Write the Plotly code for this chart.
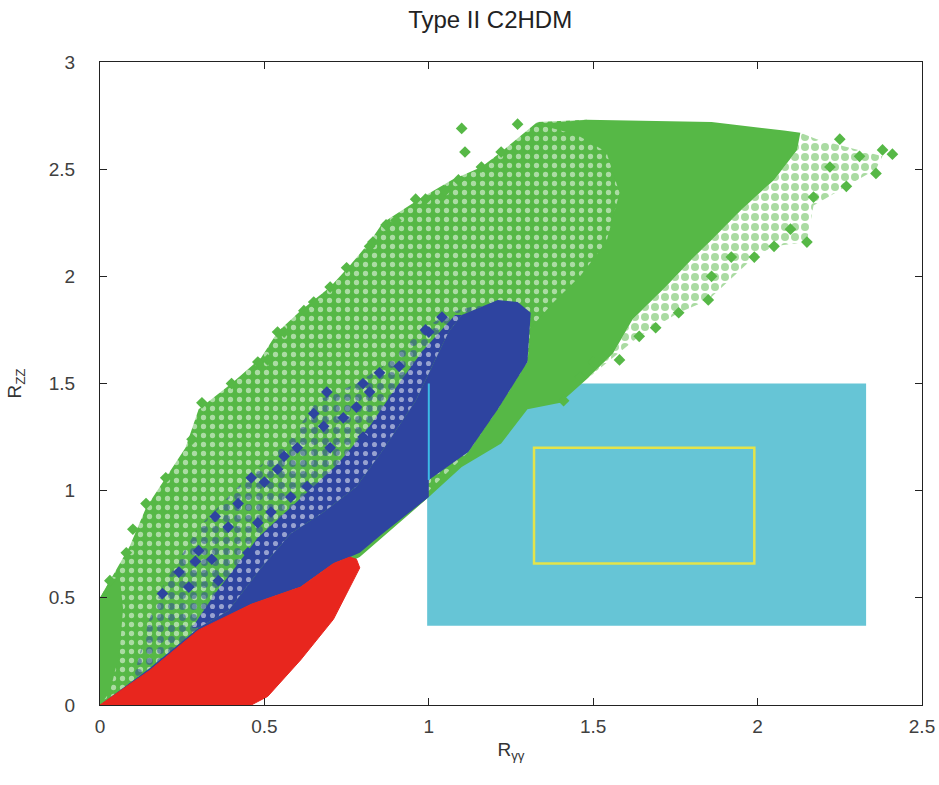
import plotly.graph_objects as go

# ---- measurement boxes -------------------------------------------------
cyan_box_x = [0.995, 2.33]
cyan_box_y = [0.37, 1.50]
yellow_box_x = [1.32, 1.99]
yellow_box_y = [0.66, 1.20]

# ---- green points --------------------------------------------------------
# sparsely populated upper-left part of the scan
green_env_x = [0.00, 0.00, 0.03, 0.06, 0.09, 0.14, 0.20, 0.26, 0.30, 0.40, 0.49, 0.54, 0.61, 0.70,
               0.76, 0.82, 0.86, 0.97, 1.07, 1.16, 1.22, 1.33, 1.48, 1.60, 1.60, 1.30, 1.00, 0.79,
               0.00]
green_env_y = [0.00, 0.50, 0.58, 0.66, 0.74, 0.92, 1.06, 1.20, 1.38, 1.50, 1.62, 1.74, 1.84, 1.95,
               2.05, 2.16, 2.25, 2.36, 2.45, 2.51, 2.58, 2.72, 2.73, 2.50, 2.00, 1.50, 0.97, 0.71,
               0.00]

# densely filled strip along the vertical axis
green_axis_x = [0.00, 0.00, 0.03, 0.06, 0.07, 0.06, 0.03, 0.00]
green_axis_y = [0.00, 0.50, 0.58, 0.60, 0.45, 0.25, 0.06, 0.00]

# sparse right-hand fringe
green_fringe_x = [2.13, 2.18, 2.28, 2.38, 2.36, 2.27, 2.17, 2.15, 2.05, 1.99, 1.85, 1.76, 1.64, 1.56,
                  1.48, 1.56, 1.62, 1.72, 1.80, 1.86, 1.95, 2.05, 2.12]
green_fringe_y = [2.67, 2.64, 2.60, 2.56, 2.50, 2.42, 2.33, 2.16, 2.14, 2.09, 1.89, 1.83, 1.72, 1.62,
                  1.52, 1.64, 1.80, 1.95, 2.08, 2.17, 2.31, 2.45, 2.59]

# densely populated core
green_core_x = [0.75, 0.79, 1.00, 1.10, 1.22, 1.30, 1.40, 1.48, 1.56, 1.62, 1.72, 1.80, 1.86, 1.95,
                2.05, 2.12, 2.13, 2.08, 1.86, 1.48, 1.33, 1.45, 1.54, 1.58, 1.54, 1.46, 1.38, 1.31,
                1.30, 1.21, 1.12, 1.00, 0.79]
green_core_y = [0.66, 0.69, 0.97, 1.11, 1.22, 1.38, 1.41, 1.52, 1.64, 1.80, 1.95, 2.08, 2.17, 2.31,
                2.45, 2.59, 2.67, 2.68, 2.72, 2.73, 2.71, 2.66, 2.58, 2.39, 2.16, 2.00, 1.88, 1.76,
                1.60, 1.38, 1.18, 1.00, 0.73]

# individual points along the edges of the green cloud
green_pts_x = [0.31, 0.40, 0.51, 0.54, 0.62, 0.70, 0.82, 0.87, 0.96, 1.04, 1.09, 1.10, 1.11, 1.16,
               1.05, 0.99, 0.90, 0.83, 0.75, 0.65, 0.56, 0.48, 0.28, 0.20, 0.14, 0.10, 0.08, 0.03,
               1.27, 1.22, 2.41, 2.38, 2.36, 2.31, 2.27, 2.25, 2.22, 2.17, 2.15, 2.10, 2.05, 1.99,
               1.92, 1.86, 1.85, 1.76, 1.69, 1.64, 1.58, 1.50, 1.46, 1.41]
green_pts_y = [1.41, 1.50, 1.61, 1.74, 1.84, 1.95, 2.14, 2.24, 2.36, 2.37, 2.45, 2.69, 2.58, 2.51,
               2.40, 2.36, 2.26, 2.16, 2.04, 1.88, 1.74, 1.60, 1.24, 1.06, 0.94, 0.82, 0.71, 0.58,
               2.71, 2.58, 2.57, 2.59, 2.48, 2.56, 2.42, 2.64, 2.51, 2.37, 2.16, 2.22, 2.14, 2.09,
               2.09, 2.00, 1.89, 1.83, 1.76, 1.72, 1.61, 1.60, 1.53, 1.42]

# ---- blue points ---------------------------------------------------------
# outer zone where blue points sit among the green ones
blue_mix_x = [0.10, 0.15, 0.19, 0.30, 0.46, 0.58, 0.66, 0.78, 0.86, 0.99, 1.06, 1.21, 1.10, 1.06,
              1.01, 0.96, 0.86, 0.78, 0.68, 0.58, 0.49, 0.39, 0.30, 0.20]
blue_mix_y = [0.12, 0.40, 0.55, 0.83, 1.08, 1.24, 1.42, 1.50, 1.58, 1.76, 1.83, 1.89, 1.82, 1.74,
              1.58, 1.42, 1.19, 1.02, 0.90, 0.80, 0.64, 0.44, 0.36, 0.22]

# band just above the solid core where blue dominates
blue_band_x = [0.28, 0.35, 0.48, 0.60, 0.72, 0.82, 0.90, 0.98, 1.08, 1.10, 1.06, 1.01, 0.96,
               0.86, 0.78, 0.68, 0.58, 0.49, 0.39, 0.30]
blue_band_y = [0.36, 0.52, 0.78, 0.95, 1.12, 1.30, 1.48, 1.65, 1.82, 1.82, 1.74, 1.58, 1.42,
               1.19, 1.02, 0.90, 0.80, 0.64, 0.44, 0.36]

# solid core
blue_core_x = [0.00, 0.15, 0.30, 0.46, 0.61, 0.71, 0.76, 0.79, 0.86, 0.96, 1.00, 1.00, 1.12, 1.21,
               1.30, 1.31, 1.27, 1.21, 1.10, 1.06, 1.01, 0.96, 0.86, 0.78, 0.68, 0.58, 0.49, 0.39,
               0.30, 0.15]
blue_core_y = [0.00, 0.15, 0.34, 0.47, 0.55, 0.66, 0.69, 0.71, 0.80, 0.92, 0.97, 1.05, 1.18, 1.38,
               1.60, 1.83, 1.88, 1.89, 1.82, 1.74, 1.58, 1.42, 1.19, 1.02, 0.90, 0.80, 0.64, 0.44,
               0.36, 0.17]

# individual blue points scattered among the green ones
blue_pts_x = [0.19, 0.27, 0.24, 0.30, 0.29, 0.34, 0.36, 0.35, 0.39, 0.42, 0.45, 0.48, 0.50, 0.46,
              0.54, 0.56, 0.60, 0.63, 0.68, 0.70, 0.74, 0.78, 0.82, 0.80, 0.52, 0.58, 0.65, 0.69,
              0.80, 0.85, 0.91, 1.00, 1.04, 0.99]
blue_pts_y = [0.52, 0.55, 0.62, 0.72, 0.67, 0.68, 0.58, 0.88, 0.83, 0.94, 0.71, 0.85, 1.04, 1.06,
              1.10, 1.16, 1.20, 1.02, 1.30, 1.20, 1.34, 1.39, 1.46, 1.25, 0.90, 0.97, 1.36, 1.46,
              1.50, 1.55, 1.58, 1.74, 1.81, 1.75]

# ---- red points ----------------------------------------------------------
red_x = [0.00, 0.15, 0.30, 0.46, 0.61, 0.71, 0.76, 0.78, 0.79, 0.71, 0.61, 0.51, 0.46, 0.00]
red_y = [0.00, 0.16, 0.35, 0.47, 0.55, 0.66, 0.69, 0.68, 0.64, 0.40, 0.21, 0.04, 0.00, 0.00]

# ---- left edge of the cyan region, visible on top of the blue points ----
cyan_edge_x = [1.0, 1.0]
cyan_edge_y = [1.05, 1.50]

x_ticks = [0, 0.5, 1, 1.5, 2, 2.5]
x_tick_text = ["0", "0.5", "1", "1.5", "2", "2.5"]
y_ticks = [0, 0.5, 1, 1.5, 2, 2.5, 3]
y_tick_text = ["0", "0.5", "1", "1.5", "2", "2.5", "3"]

GREEN = "#56b846"
BLUE = "#2e44a0"
RED = "#e8261e"
CYAN = "#66c5d6"
YELLOW = "#e4e44a"
FONT = "Liberation Sans, Arial, sans-serif"


def region(xs, ys, color, pattern=None):
    return go.Scatter(x=xs, y=ys, mode="lines", fill="toself",
                      line=dict(width=0, color=color),
                      fillcolor=color if pattern is None else "rgba(0,0,0,0)",
                      fillpattern=pattern, hoverinfo="skip", showlegend=False)


def points(xs, ys, color):
    return go.Scatter(x=xs, y=ys, mode="markers", hoverinfo="skip", showlegend=False,
                      marker=dict(symbol="diamond", size=9, color=color, line=dict(width=0)))


fig = go.Figure()

# green cloud
fig.add_trace(region(green_env_x, green_env_y, GREEN,
                     dict(shape=".", bgcolor=GREEN, fgcolor="white", size=9, solidity=0.27)))
fig.add_trace(region(green_axis_x, green_axis_y, GREEN))
fig.add_trace(region(green_fringe_x, green_fringe_y, GREEN,
                     dict(shape=".", fgcolor=GREEN, size=10, solidity=0.5)))
fig.add_trace(region(green_core_x, green_core_y, GREEN))
fig.add_trace(points(green_pts_x, green_pts_y, GREEN))

# blue cloud
fig.add_trace(region(blue_mix_x, blue_mix_y, BLUE,
                     dict(shape=".", fgcolor=BLUE, size=11, solidity=0.3)))
fig.add_trace(region(blue_band_x, blue_band_y, BLUE,
                     dict(shape=".", bgcolor=BLUE, fgcolor="white", size=9, solidity=0.25)))
fig.add_trace(region(blue_core_x, blue_core_y, BLUE))
fig.add_trace(points(blue_pts_x, blue_pts_y, BLUE))

fig.add_trace(go.Scatter(
    x=cyan_edge_x, y=cyan_edge_y, mode="lines",
    line=dict(width=2, color="#3db9e6"), hoverinfo="skip", showlegend=False))

# red cloud
fig.add_trace(go.Scatter(
    x=red_x, y=red_y, mode="lines", fill="toself",
    line=dict(width=1, color=RED), fillcolor=RED, hoverinfo="skip", showlegend=False))

fig.add_shape(type="rect", xref="x", yref="y",
              x0=cyan_box_x[0], x1=cyan_box_x[1], y0=cyan_box_y[0], y1=cyan_box_y[1],
              fillcolor=CYAN, line=dict(width=0), layer="below")
fig.add_shape(type="rect", xref="x", yref="y",
              x0=yellow_box_x[0], x1=yellow_box_x[1], y0=yellow_box_y[0], y1=yellow_box_y[1],
              fillcolor="rgba(0,0,0,0)", line=dict(width=2.5, color=YELLOW), layer="below")

axis_common = dict(
    showgrid=False, zeroline=False, showline=True, linecolor="#222", linewidth=1.2,
    mirror="ticks", ticks="inside", ticklen=7, tickcolor="#222", tickwidth=1.2,
    tickfont=dict(family=FONT, size=19, color="#404040"), automargin=False,
)

fig.update_layout(
    width=939, height=785,
    margin=dict(l=100, r=17, t=62, b=80),
    paper_bgcolor="white", plot_bgcolor="white",
    title=dict(text="Type II C2HDM", x=0.522, xref="container", xanchor="center",
               y=0.975, yref="container", yanchor="middle",
               font=dict(family=FONT, size=24, color="#222")),
    xaxis=dict(range=[0, 2.5], tickvals=x_ticks, ticktext=x_tick_text,
               ticklabelstandoff=4,
               title=dict(text="R<sub>γγ</sub>", standoff=6,
                          font=dict(family=FONT, size=19, color="#333")),
               **axis_common),
    yaxis=dict(range=[0, 3], tickvals=y_ticks, ticktext=y_tick_text,
               ticklabelstandoff=20,
               title=dict(text="R<sub>ZZ</sub>", standoff=22,
                          font=dict(family=FONT, size=19, color="#333")),
               **axis_common),
)

fig.write_html("out.html")
